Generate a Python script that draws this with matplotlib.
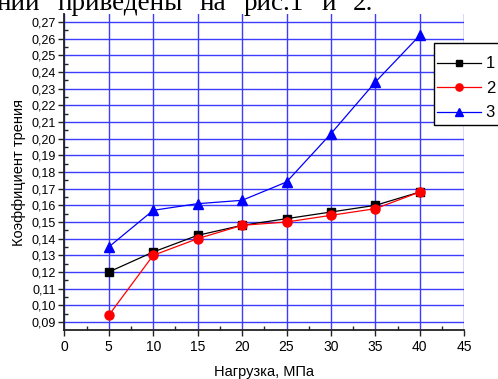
import matplotlib
matplotlib.use("Agg")
import matplotlib.pyplot as plt
from matplotlib.ticker import MultipleLocator, FuncFormatter
from matplotlib.patches import Rectangle

x = [5, 10, 15, 20, 25, 30, 35, 40]
s1 = [0.120, 0.132, 0.142, 0.148, 0.152, 0.156, 0.160, 0.168]
s2 = [0.094, 0.130, 0.140, 0.148, 0.150, 0.154, 0.158, 0.168]
s3 = [0.135, 0.157, 0.161, 0.163, 0.174, 0.203, 0.234, 0.262]
labels = ["1", "2", "3"]
xlabel = "Нагрузка, МПа"
ylabel = "Коэффициент трения"
header_words = ["ний", "приведены", "на", "рис.1", "и", "2."]

plt.rcParams['font.family'] = ['Liberation Sans', 'DejaVu Sans']

W, H = 498, 379
fig = plt.figure(figsize=(W/100, H/100), dpi=100)
ax = fig.add_axes([64.3/W, 1-330/H, 400/W, 316/H])

ax.plot(x, s1, color='black', marker='s', markersize=5.5, linewidth=0.9, label=labels[0], zorder=3)
ax.plot(x, s2, color='red', marker='o', markersize=6.5, linewidth=0.9, label=labels[1], zorder=4)
ax.plot(x, s3, color='blue', marker='^', markersize=7, linewidth=0.9, label=labels[2], zorder=5)

ax.set_xlim(0, 45)
ax.set_ylim(0.0852, 0.2748)
ax.xaxis.set_major_locator(MultipleLocator(5))
ax.xaxis.set_minor_locator(MultipleLocator(2.5))
ax.yaxis.set_major_locator(MultipleLocator(0.01))
ax.yaxis.set_minor_locator(MultipleLocator(0.005))
ax.yaxis.set_major_formatter(FuncFormatter(lambda v, p: f"{v:.2f}".replace('.', ',')))
ax.xaxis.set_major_formatter(FuncFormatter(lambda v, p: f"{v:g}"))

ax.grid(True, which='major', color='#3c3cff', linewidth=1)
ax.set_axisbelow(True)
for s in ['top', 'right']:
    ax.spines[s].set_visible(False)
for s in ['left', 'bottom']:
    ax.spines[s].set_color('#222222')
    ax.spines[s].set_linewidth(1.3)

ax.tick_params(which='major', direction='out', length=4, width=1, color='#222222', pad=2)
ax.tick_params(which='minor', direction='in', length=3, width=1, color='#222222')
ax.tick_params(axis='y', labelsize=9)
ax.tick_params(axis='x', labelsize=10, pad=3)

ax.set_xlabel(xlabel, fontsize=10.5, labelpad=8)
ax.set_ylabel(ylabel, fontsize=10.5, labelpad=4)

# legend frame drawn as a box, partly beyond the right edge as in the reference
box = Rectangle((434/W, 1-125/H), 80/W, 82/H, transform=fig.transFigure,
                facecolor='white', edgecolor='black', linewidth=1, zorder=4)
fig.patches.append(box)
leg = fig.legend(loc='upper left', bbox_to_anchor=(434/W, 1-53/H), fontsize=12,
                 frameon=False, handlelength=2.6, handletextpad=0.3, borderpad=0.2,
                 labelspacing=0.57, borderaxespad=0, markerscale=0.8)
leg.set_zorder(5)

# header line (justified text fragment cut at the top edge)
renderer = fig.canvas.get_renderer()
texts = [fig.text(0, 1-10/H, w, fontfamily='Liberation Serif', fontsize=19.5,
                  ha='left', va='baseline') for w in header_words]
widths = [t.get_window_extent(renderer).width for t in texts]
start, end = -3.0, 373.0
gap = (end - start - sum(widths)) / (len(texts) - 1)
pos = start
for t, wd in zip(texts, widths):
    t.set_x(pos / W)
    pos += wd + gap

fig.savefig('out.png', dpi=100)
